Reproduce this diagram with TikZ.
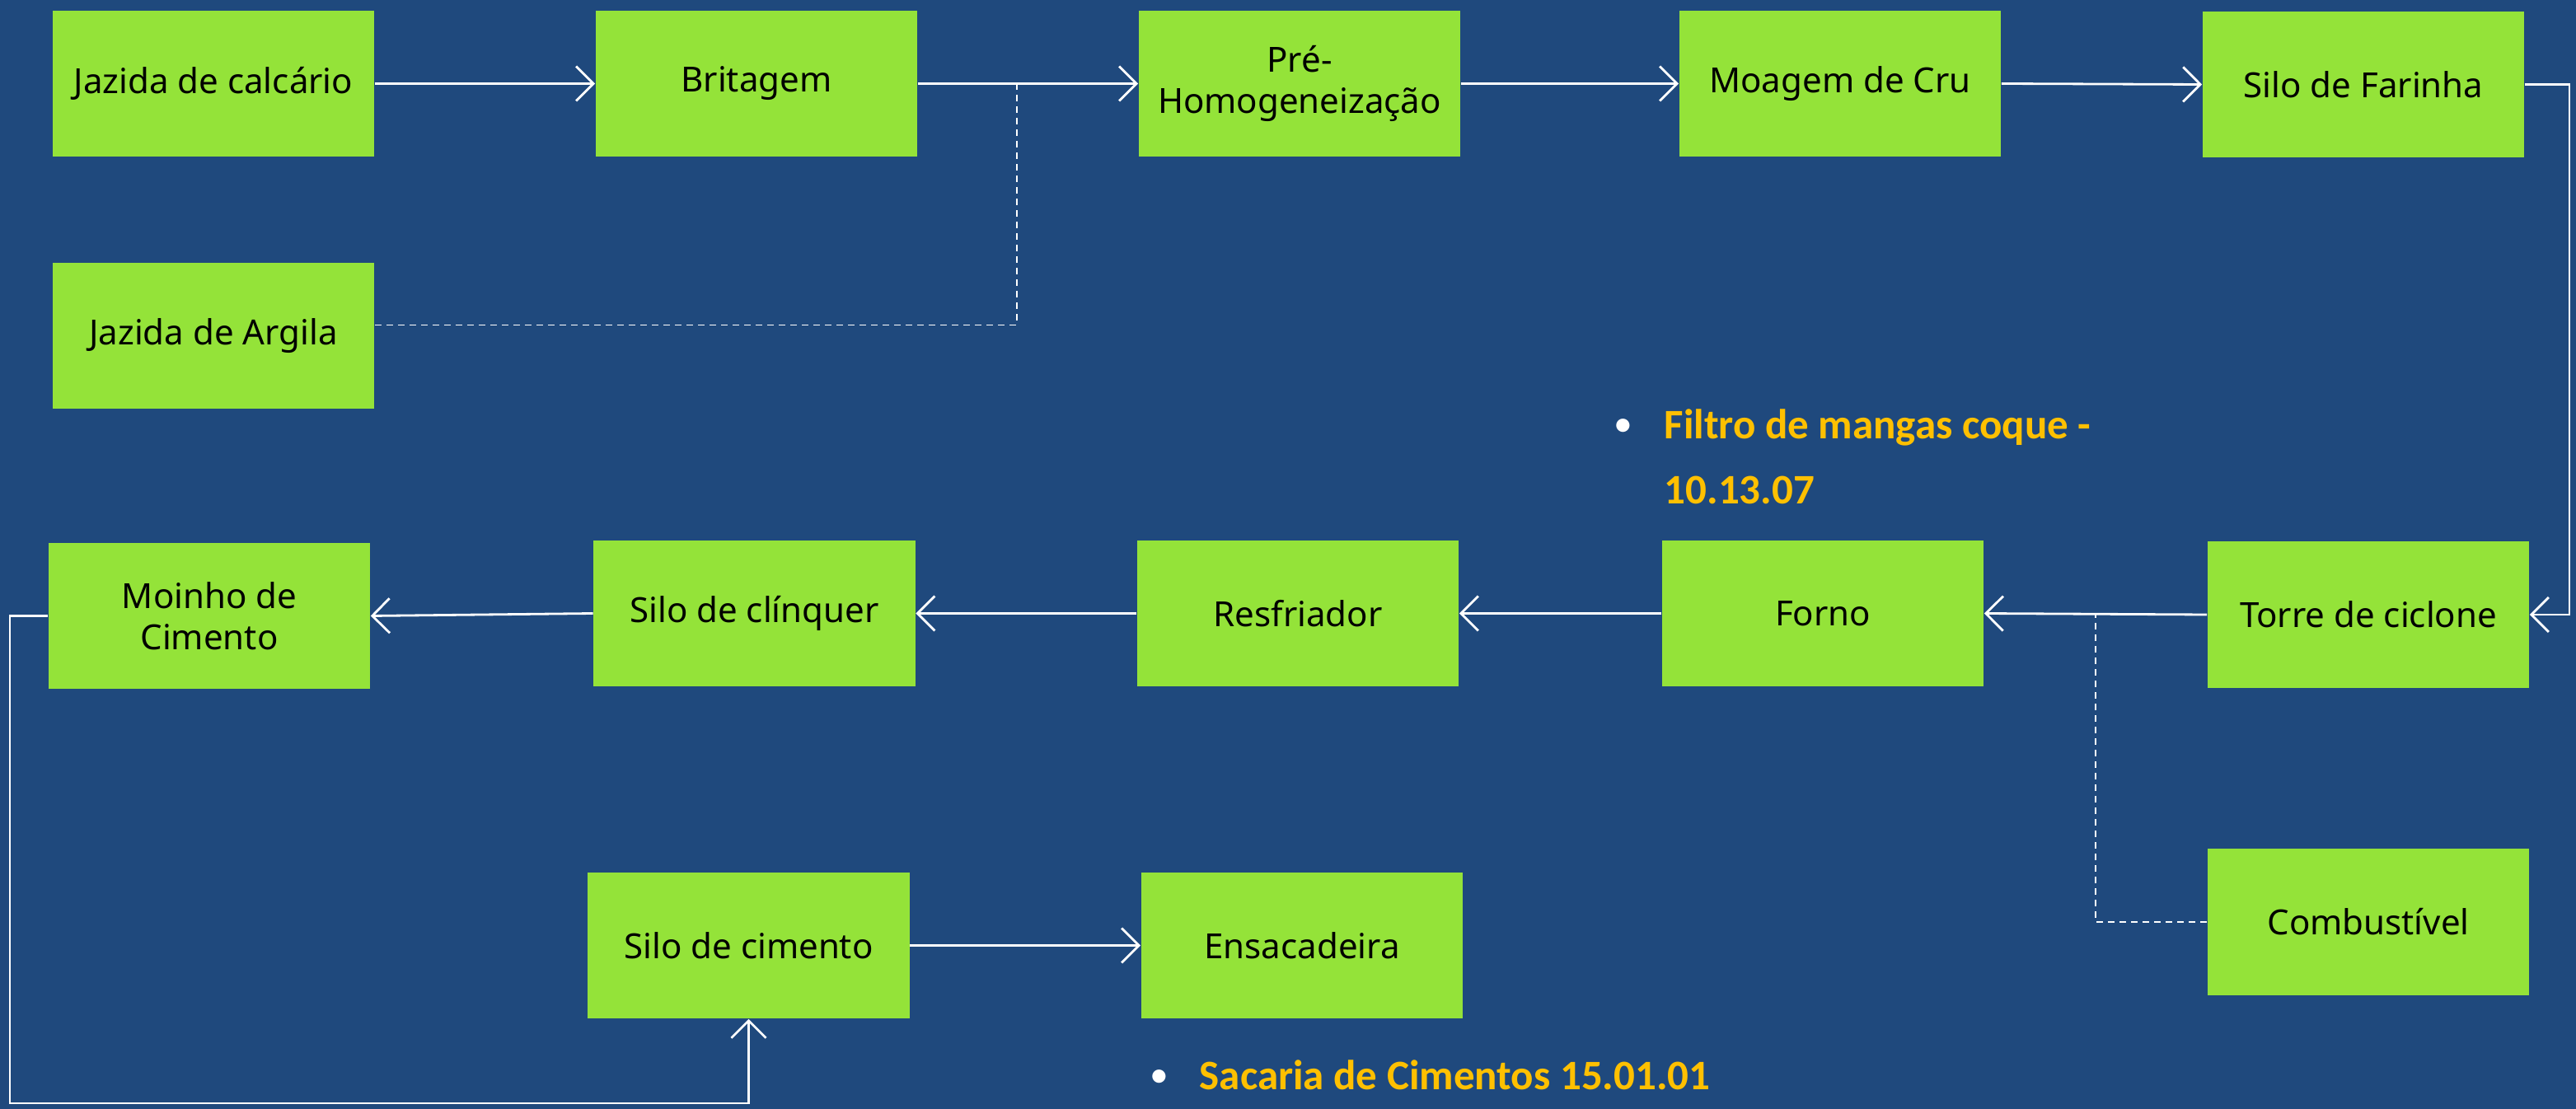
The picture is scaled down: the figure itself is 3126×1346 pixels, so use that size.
\documentclass[tikz,border=0pt]{standalone}
\usepackage{fontspec}
\setmainfont{Noto Sans}
\newfontfamily\yfont{Carlito}
\usetikzlibrary{arrows.meta,calc}
\definecolor{bgblue}{RGB}{31,73,125}
\definecolor{boxgreen}{RGB}{148,227,57}
\definecolor{ylw}{RGB}{255,192,0}
\tikzset{
  procbox/.style={fill=boxgreen, draw=none, minimum width=3.9cm, minimum height=1.77cm,
    inner sep=0pt, align=center, text=black, font=\fontsize{11.95pt}{14.3pt}\selectfont},
  arr/.style={draw=white, line width=0.28mm, -{Straight Barb[length=2.1mm,width=4.2mm,line width=0.28mm]}},
  dsh/.style={draw=white, line width=0.16mm, dash pattern=on 0.8mm off 0.6mm},
  note/.style={anchor=base west, inner sep=0pt, text=ylw, font=\yfont\bfseries\fontsize{14.5pt}{16pt}\selectfont},
  bul/.style={anchor=base west, inner sep=0pt, text=white, font=\yfont\fontsize{13pt}{16pt}\selectfont}
}
\begin{document}
\begin{tikzpicture}[x=0.01cm,y=-0.01cm]
\fill[bgblue] (0,0) rectangle (3126,1346);
\useasboundingbox (0,0) rectangle (3126,1346);
% boxes
\node[procbox] (calc) at (259,101.5) {Jazida de calcário};
\node[procbox] (arg) at (259,407.5) {Jazida de Argila};
\node[procbox] (brit) at (918,101.5) {Britagem};
\node[procbox] (pre) at (1577,101.5) {Pré-\\Homogeneização};
\node[procbox] (moag) at (2233,101.5) {Moagem de Cru};
\node[procbox] (far) at (2868,102.5) {Silo de Farinha};
\node[procbox] (torre) at (2874,746) {Torre de ciclone};
\node[procbox] (forno) at (2212,744.5) {Forno};
\node[procbox] (resf) at (1575,744.5) {Resfriador};
\node[procbox] (clinq) at (915.5,744.5) {Silo de clínquer};
\node[procbox] (moinho) at (254,747.5) {Moinho de\\Cimento};
\node[procbox] (scim) at (908.5,1147.5) {Silo de cimento};
\node[procbox] (ensac) at (1580,1147.5) {Ensacadeira};
\node[procbox] (comb) at (2874,1119) {Combustível};
% helper coordinates
\coordinate (j1) at (1234,101.5);
\coordinate (rx) at (3118,0);
\coordinate (j2) at (2543,746);
\coordinate (lb) at (12,1339);
% connectors
\draw[arr] (calc.east) -- (brit.west);
\draw[arr] (brit.east) -- (pre.west);
\draw[arr] (pre.east) -- (moag.west);
\draw[arr] (moag.east) -- (far.west);
\draw[dsh] ([yshift=0.13cm]arg.east) -| (j1);
\draw[arr] (far.east) -- (far.east -| rx) |- (torre.east);
\draw[arr] (torre.west) -- (forno.east);
\draw[dsh] (comb.west) -| (j2);
\draw[arr] (forno.west) -- (resf.east);
\draw[arr] (resf.west) -- (clinq.east);
\draw[arr] (clinq.west) -- (moinho.east);
\draw[arr] (moinho.west) -| (lb) -| (scim.south);
\draw[arr] (scim.east) -- (ensac.west);
% notes
\node[bul] (b1) at (1958,530) {•};
\node[note] (n1) at (2019,533) {Filtro de mangas coque -};
\node[note] (n2) at (2019,612) {10.13.07};
\node[bul] (b2) at (1395,1319) {•};
\node[note] (n3) at (1455,1322) {Sacaria de Cimentos 15.01.01};
\end{tikzpicture}
\end{document}
